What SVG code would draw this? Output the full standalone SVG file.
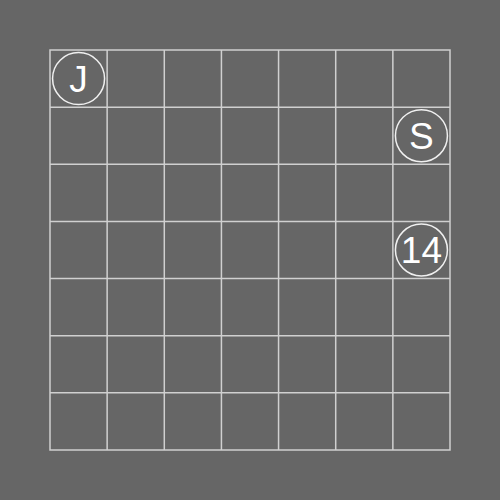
<svg xmlns="http://www.w3.org/2000/svg" width="500" height="500" viewBox="0 0 500 500">
<style>
.g{stroke:#d0d0d0;stroke-width:1.5;fill:none}
.c{fill:none;stroke:#f0f0f0;stroke-width:1.5}
.t{fill:#ffffff;font-family:"Liberation Sans",Arial,sans-serif;font-size:37px;text-anchor:middle}
</style>
<rect width="500" height="500" fill="#666666"/>
<g id="grid" class="g">
<rect x="50" y="50" width="400" height="400"/>
<path d="M107.14 50V450M164.29 50V450M221.43 50V450M278.57 50V450M335.71 50V450M392.86 50V450M50 107.14H450M50 164.29H450M50 221.43H450M50 278.57H450M50 335.71H450M50 392.86H450"/>
</g>
<g id="node-J"><circle class="c" cx="78.57" cy="78.57" r="26"/><text class="t" x="78.57" y="91.5">J</text></g>
<g id="node-S"><circle class="c" cx="421.43" cy="135.71" r="26"/><text class="t" x="421.43" y="148.7">S</text></g>
<g id="node-14"><circle class="c" cx="421.43" cy="250" r="26"/><text class="t" x="421.43" y="263">14</text></g>
<g id="connectors"/>
</svg>
